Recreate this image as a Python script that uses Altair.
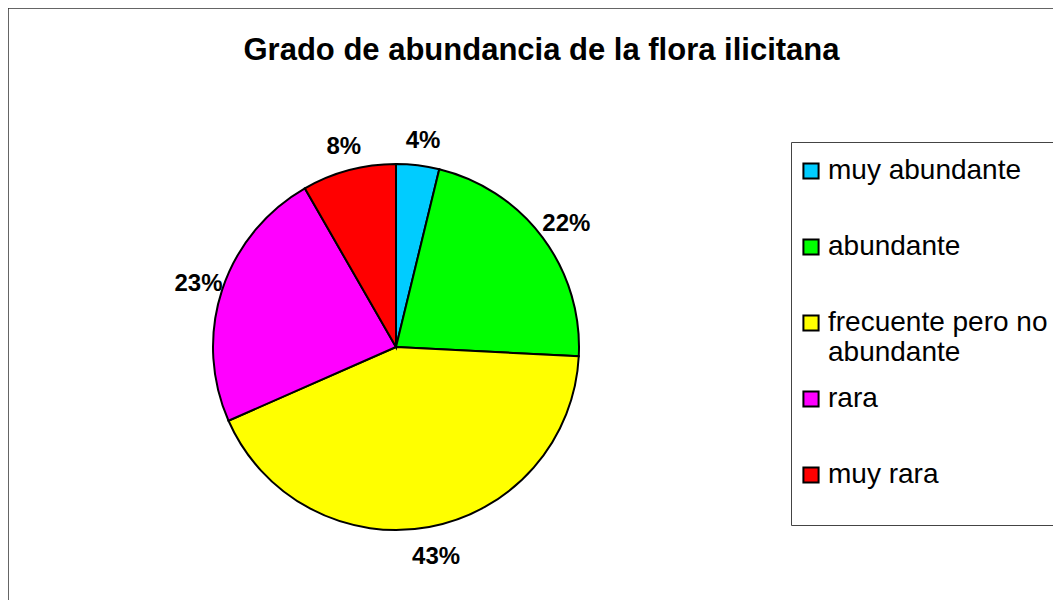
import altair as alt
import pandas as pd

categories = ["muy abundante", "abundante", "frecuente pero no abundante", "rara", "muy rara"]
values = [3.8, 22.0, 42.6, 23.3, 8.3]
labels = ["4%", "22%", "43%", "23%", "8%"]
colors = ["#00CCFF", "#00FF00", "#FFFF00", "#FF00FF", "#FF0000"]

df = pd.DataFrame({
    "categoria": categories,
    "valor": values,
    "etiqueta": labels,
    "orden": list(range(len(categories))),
})

FONT = "Liberation Sans"

# outer chart frame (extends past the visible page like the reference)
frame = alt.Chart(pd.DataFrame({"k": [0]})).mark_rect(
    fill="white", stroke="#333333", strokeWidth=1.5
).encode(
    x=alt.value(0), x2=alt.value(1200), y=alt.value(0), y2=alt.value(800)
)

base = alt.Chart(df).encode(
    theta=alt.Theta("valor:Q", stack=True),
    order=alt.Order("orden:Q"),
)

pie = base.mark_arc(outerRadius=183, stroke="black", strokeWidth=2).encode(
    x=alt.value(388),
    y=alt.value(339),
    color=alt.Color(
        "categoria:N",
        scale=alt.Scale(domain=categories, range=colors),
        sort=categories,
        legend=alt.Legend(
            title=" ",
            titleFontSize=2,
            titlePadding=7,
            orient="none",
            legendX=783,
            legendY=134,
            symbolType="square",
            symbolSize=230,
            symbolStrokeColor="black",
            symbolStrokeWidth=2,
            labelFont=FONT,
            labelFontSize=28,
            labelColor="black",
            labelLimit=400,
            labelExpr="datum.label == 'frecuente pero no abundante' ? ['frecuente pero no', 'abundante'] : [datum.label, '']",
            rowPadding=18,
            padding=6,
            strokeColor="#444444",
            fillColor="white",
            labelOffset=3,
        ),
    ),
)

text = base.mark_text(
    radius=210, font=FONT, fontSize=24, fontWeight="bold", color="black"
).encode(
    x=alt.value(390),
    y=alt.value(342),
    text="etiqueta:N",
)

chart = (
    alt.layer(frame, pie, text)
    .properties(
        width=1045,
        height=592,
        padding=0,
        autosize=alt.AutoSizeParams(type="none"),
        title=alt.TitleParams(
            "Grado de abundancia de la flora ilicitana",
            font=FONT,
            fontSize=31,
            fontWeight="bold",
            color="black",
            anchor="middle",
            dx=11,
            dy=33,
            offset=-51,
            baseline="alphabetic",
        ),
    )
    .configure_view(stroke=None)
)

chart.save("out.html", embed_options={"renderer": "svg", "actions": False})
